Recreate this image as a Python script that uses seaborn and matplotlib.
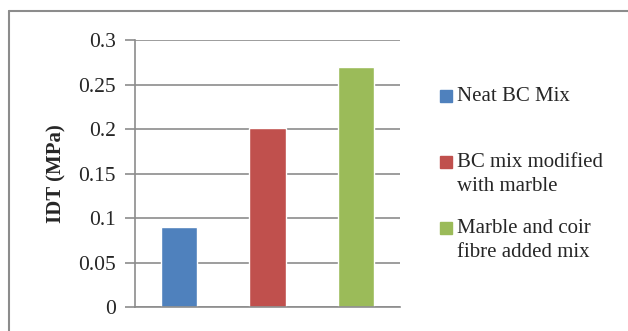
import matplotlib
matplotlib.use("Agg")
import matplotlib.pyplot as plt
import seaborn as sns
import pandas as pd
from matplotlib.lines import Line2D
from matplotlib.patches import Rectangle

categories = ["Neat BC Mix", "BC mix modified\nwith marble", "Marble and coir\nfibre added mix"]
idt_values = [0.09, 0.201, 0.27]
colors = ["#4F81BD", "#C0504D", "#9BBB59"]
yticks = [0, 0.05, 0.1, 0.15, 0.2, 0.25, 0.3]
ytick_labels = ["0", "0.05", "0.1", "0.15", "0.2", "0.25", "0.3"]

sns.set_style("white")
plt.rcParams["font.family"] = ["Liberation Serif", "DejaVu Serif"]

W, H = 628, 331
fig = plt.figure(figsize=(W / 100, H / 100), dpi=100)
ax = fig.add_axes([135 / W, (H - 307) / H, (400 - 135) / W, (307 - 40) / H])

df = pd.DataFrame({"cat": categories, "val": idt_values})
sns.barplot(data=df, x="cat", y="val", hue="cat", palette=colors, width=0.41,
            legend=False, ax=ax, saturation=1)

ax.set_ylim(0, 0.3)
ax.set_yticks(yticks)
ax.set_yticklabels(ytick_labels, fontsize=15.5)
ax.set_xticks([])
ax.set_xlabel("")
ax.set_ylabel("IDT (MPa)", fontsize=15, fontweight="bold", labelpad=8)
ax.grid(axis="y", color="#8c8c8c", linewidth=1.2)
ax.set_axisbelow(True)
for s in ["top", "right"]:
    ax.spines[s].set_visible(False)
for s in ["left", "bottom"]:
    ax.spines[s].set_color("#8c8c8c")
    ax.spines[s].set_linewidth(1.2)
ax.tick_params(axis="y", length=7, width=1.2, color="#8c8c8c", pad=7, left=True)
ax.set_xlim(-0.5, 2.5)

# Legend drawn at the right of the plot
leg_y = [96, 162, 228]
for lab, col, yy in zip(categories, colors, leg_y):
    fig.patches.append(Rectangle((440 / W, (H - yy - 6) / H), 12 / W, 12 / H,
                                 transform=fig.transFigure, color=col))
    fig.text(457 / W, (H - yy + 9) / H, lab, fontsize=15, va="top", ha="left",
             linespacing=1.35)

# Chart border (left & top visible)
fig.add_artist(Line2D([9 / W, 9 / W], [0, (H - 11) / H], color="#8c8c8c", lw=1.5,
                      transform=fig.transFigure))
fig.add_artist(Line2D([9 / W, 1], [(H - 11) / H, (H - 11) / H], color="#8c8c8c", lw=1.5,
                      transform=fig.transFigure))

fig.savefig("out.png", dpi=100)
